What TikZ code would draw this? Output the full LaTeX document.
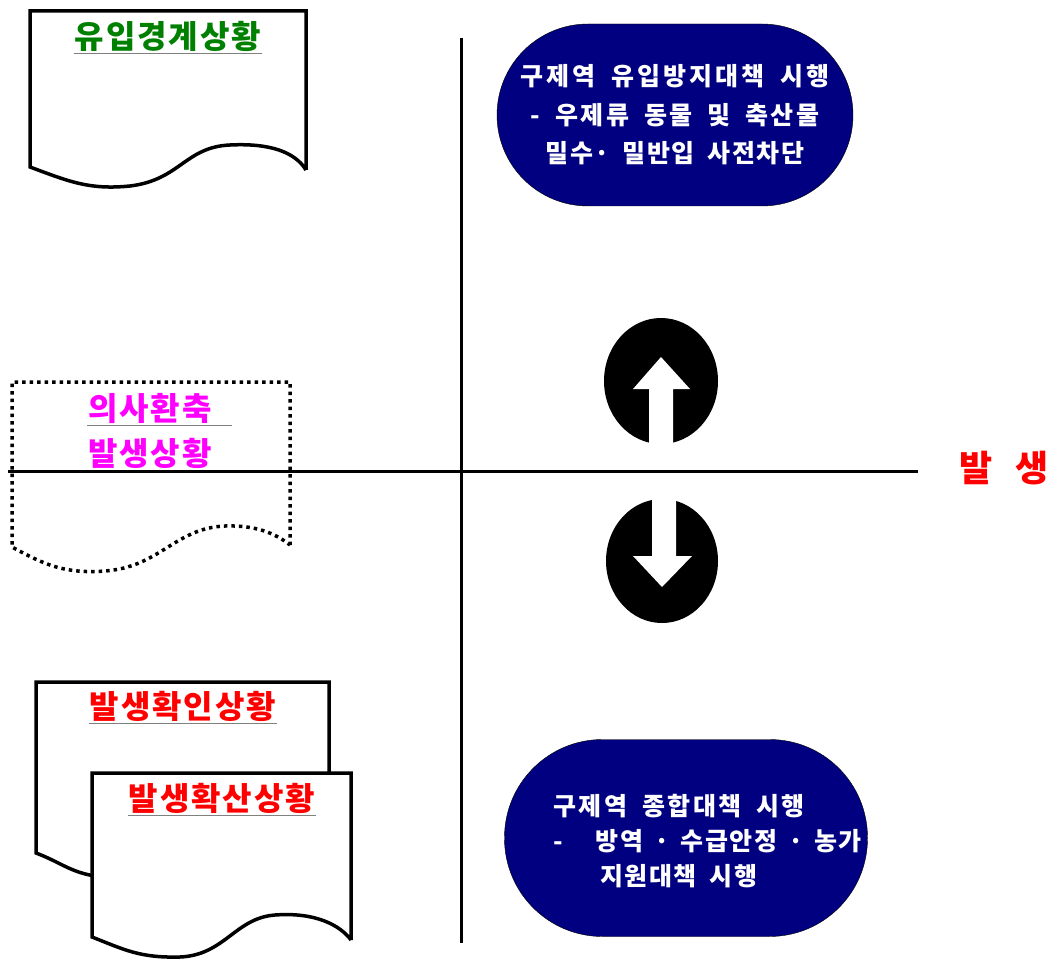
\documentclass[tikz,border=0pt]{standalone}
\usepackage{fontspec}
\setmainfont{Noto Sans CJK KR}
\newfontfamily\krwide{Noto Sans CJK KR}[LetterSpace=6, WordSpace=1.8]
\usetikzlibrary{positioning}
\definecolor{mnavy}{rgb}{0, 0, 0.5}
\definecolor{mgreen}{rgb}{0, 0.5, 0}
\definecolor{mmagenta}{rgb}{1, 0, 1}
\definecolor{mred}{rgb}{1, 0, 0}
\tikzset{
  docline/.style={line width=3.5pt, fill=white},
  dotline/.style={line width=3.5pt, dash pattern=on 3.5pt off 4pt},
  axisline/.style={line width=3pt},
  heading/.style={font=\krwide\fontsize{32}{36}\selectfont\bfseries, inner sep=1pt},
  underl/.style={draw=gray, line width=1.5pt},
  bluebox/.style={fill=mnavy, draw=black, minimum width=356pt, minimum height=182pt, rounded corners=91pt},
  bluetext/.style={text=white, font=\krwide\fontsize{25}{38.5}\selectfont\bfseries, inner sep=0pt},
}

\begin{document}
\begin{tikzpicture}[x=1pt, y=-1pt]
  \useasboundingbox (0, 0) rectangle (1057, 960);

  % documents on the left
  \draw [docline] (306, 170) -- (306, 11) -- (30, 11) -- (30, 167)
    .. controls (70, 182) and (90, 190) .. (130, 186)
    .. controls (180, 180) and (185, 147) .. (230, 145)
    .. controls (270, 143) and (295, 152) .. (306, 170);
  \node [heading, text=mgreen] (inflow) at (168, 36) {유입경계상황};
  \draw [underl] ([yshift=-1pt]inflow.south west) -- ([yshift=-1pt]inflow.south east);

  \draw [dotline] (290, 545) -- (290, 382) -- (12, 382) -- (12, 547)
    .. controls (45, 565) and (65, 574) .. (105, 571)
    .. controls (160, 567) and (175, 528) .. (225, 526)
    .. controls (255, 525) and (275, 533) .. (290, 545);
  \node [heading, text=mmagenta, anchor=west] (suspect) at (87, 408) {의사환축};
  \draw [underl] ([yshift=-1pt]suspect.south west) -- ++(145, 0);
  \node [heading, text=mmagenta, anchor=west] (suspectocc) at (87, 453) {발생상황};
  \draw [underl] ([yshift=-1pt]suspectocc.south west) -- ([yshift=-1pt]suspectocc.south east);

  \draw [docline] (329, 860) -- (329, 682) -- (36, 682) -- (36, 853)
    .. controls (60, 862) and (70, 872) .. (95, 876)
    .. controls (130, 880) and (150, 860) .. (200, 858)
    .. controls (250, 856) and (300, 850) .. (329, 860);
  \node [heading, text=mred] (confirm) at (183, 706) {발생확인상황};
  \draw [underl] ([yshift=-1pt]confirm.south west) -- ([yshift=-1pt]confirm.south east);

  \draw [docline] (351, 940) -- (351, 773) -- (92, 773) -- (92, 937)
    .. controls (125, 950) and (140, 958) .. (180, 957)
    .. controls (225, 955) and (235, 918) .. (275, 915)
    .. controls (315, 912) and (340, 925) .. (351, 940);
  \node [heading, text=mred] (spread) at (222, 798) {발생확산상황};
  \draw [underl] ([yshift=-1pt]spread.south west) -- ([yshift=-1pt]spread.south east);

  % axes
  \coordinate (vtop) at (461, 38);
  \coordinate (vbot) at (461, 943);
  \coordinate (hleft) at (8, 471);
  \coordinate (hright) at (918, 471);
  \draw [axisline] (vtop) -- (vbot);
  \draw [axisline] (hleft) -- (hright);
  \node [heading, text=mred, font=\fontsize{36}{40}\selectfont\bfseries] (occur) at (1004, 468) {발\hspace{22pt}생};

  % measures
  \node [bluebox] (prevent) at (675, 115) {};
  \node [bluetext, align=center] (preventtxt) at (prevent.center)
    {{\addfontfeature{LetterSpace=12}구제역 유입방지대책 시행}\\{\addfontfeature{LetterSpace=10}- 우제류 동물 및 축산물}\\밀수· 밀반입 사전차단};
  \node [bluebox, minimum width=363pt, minimum height=197pt, rounded corners=98pt] (overall) at (686, 838) {};
  \node [bluetext, align=left, anchor=west, font=\krwide\fontsize{25}{35}\selectfont\bfseries] (overalltxt) at (553, 841)
    {{\addfontfeature{LetterSpace=10}구제역 종합대책 시행}\\-\hspace{33pt}방역\hspace{11pt}·\hspace{11pt}수급안정\hspace{11pt}·\hspace{11pt}농가\\\hspace{47pt}지원대책 시행};

  % up and down signs
  \fill (661, 381) ellipse [x radius=57, y radius=63];
  \fill [white] (649, 446) -- (649, 389) -- (633, 389) -- (661, 357) -- (690, 389) -- (673, 389) -- (673, 446) -- cycle;
  \fill (662, 561) ellipse [x radius=56, y radius=62];
  \fill [white] (652, 497) -- (676, 497) -- (676, 556) -- (692, 556) -- (662, 587) -- (633, 556) -- (652, 556) -- cycle;
\end{tikzpicture}
\end{document}
